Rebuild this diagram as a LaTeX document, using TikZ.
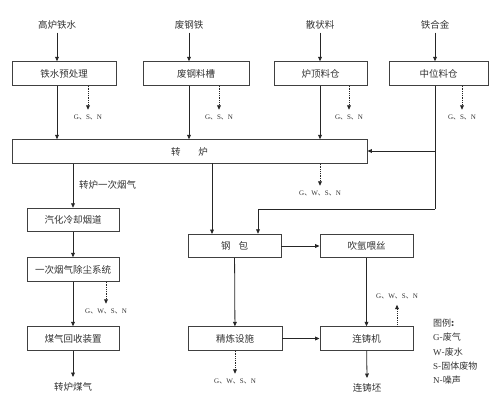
\documentclass[tikz,border=0pt]{standalone}
\usepackage{fontspec}
\setmainfont{Liberation Serif}
\newfontfamily\cjk{Noto Sans CJK SC}
\usetikzlibrary{arrows.meta}
\newcommand{\dn}{{\cjk 、}}
\tikzset{
  pbox/.style={draw=black!75, line width=0.9pt, minimum width=#1, minimum height=23.5pt, inner sep=0pt, font=\cjk\fontsize{9.5}{11}\selectfont, text=black!80},
  lbl/.style={inner sep=0pt, font=\cjk\fontsize{9.5}{11}\selectfont, text=black!80},
  em/.style={inner sep=0pt, font=\fontsize{7}{8}\selectfont, text=black!80},
  flow/.style={draw=black!85, line width=0.8pt, -{Triangle[length=4.5pt,width=3.8pt]}},
  plain/.style={draw=black!85, line width=0.8pt},
  emit/.style={draw=black!85, line width=0.8pt, densely dotted, -{Triangle[length=4.5pt,width=3.8pt]}},
  leg/.style={inner sep=0pt, anchor=west, font=\cjk\fontsize{9}{11}\selectfont, text=black!80}
}
\begin{document}
\begin{tikzpicture}[x=1pt,y=-1pt]
\useasboundingbox (0,0) rectangle (500,408);
% inputs
\node[lbl] (i1) at (57,25) {高炉铁水};
\node[lbl] (i2) at (189,25) {废钢铁};
\node[lbl] (i3) at (320,25) {散状料};
\node[lbl] (i4) at (435,25) {铁合金};
% first row boxes
\node[pbox=104pt] (b1) at (64,73.5) {铁水预处理};
\node[pbox=106pt] (b2) at (196,73.5) {废钢料槽};
\node[pbox=93pt] (b3) at (320.5,73.5) {炉顶料仓};
\node[pbox=99pt] (b4) at (438.5,73.5) {中位料仓};
% converter
\node[pbox=355pt] (zl) at (189.5,151.5) {转\hspace{18pt}炉};
% left chain
\node[pbox=92pt] (qh) at (73,220) {汽化冷却烟道};
\node[pbox=92pt] (cc) at (73,269.5) {一次烟气除尘系统};
\node[pbox=92pt] (mq) at (73,338.5) {煤气回收装置};
% middle / right
\node[pbox=93pt] (gb) at (234.5,246) {钢\hspace{8pt}包};
\node[pbox=93pt] (cy) at (366.5,246) {吹氩喂丝};
\node[pbox=94pt] (jl) at (235,338.5) {精炼设施};
\node[pbox=93pt] (lz) at (366.5,338.5) {连铸机};
% emission labels
\node[em] (e1) at (88,117) {G\dn S\dn N};
\node[em] (e2) at (219,117) {G\dn S\dn N};
\node[em] (e3) at (349,117) {G\dn S\dn N};
\node[em] (e4) at (462,117) {G\dn S\dn N};
\node[em] (e5) at (320,193) {G\dn W\dn S\dn N};
\node[em] (e6) at (106,311) {G\dn W\dn S\dn N};
\node[em] (e7) at (235,381) {G\dn W\dn S\dn N};
\node[em] (e8) at (397,296) {G\dn W\dn S\dn N};
% outputs
\node[lbl, anchor=west] (t1) at (79,185) {转炉一次烟气};
\node[lbl] (o1) at (73,387) {转炉煤气};
\node[lbl] (o2) at (367,388) {连铸坯};
% coordinates
\coordinate (c1) at (435,151);
\coordinate (c2) at (435,209);
\coordinate (c3) at (258,209);
\coordinate (f1) at (73,377);
\coordinate (f2) at (367,378);
% input arrows
\draw[flow] (i1.south) ++(0,3) -- (i1 |- b1.north);
\draw[flow] (i2.south) ++(0,3) -- (i2 |- b2.north);
\draw[flow] (i3.south) ++(0,3) -- (i3 |- b3.north);
\draw[flow] (i4.south) ++(0,3) -- (i4 |- b4.north);
% to converter
\draw[flow] (i1 |- b1.south) -- (i1 |- zl.north);
\draw[flow] (i2 |- b2.south) -- (i2 |- zl.north);
\draw[flow] (i3 |- b3.south) -- (i3 |- zl.north);
\draw[plain] (i4 |- b4.south) -- (c2);
\draw[flow] (c1) -- (c1 -| zl.east);
\draw[flow] (c2) -- (c3) -- (c3 |- gb.north);
% emissions first row
\draw[emit] (e1 |- b1.south) -- ([yshift=4.5pt]e1.north);
\draw[emit] (e2 |- b2.south) -- ([yshift=4.5pt]e2.north);
\draw[emit] (e3 |- b3.south) -- ([yshift=4.5pt]e3.north);
\draw[emit] (e4 |- b4.south) -- ([yshift=4.5pt]e4.north);
\draw[emit] (e5 |- zl.south) -- ([yshift=4.5pt]e5.north);
% converter outputs
\draw[flow] (qh.north |- zl.south) -- (qh.north);
\draw[flow] (212,163) -- (212,234);
% left chain
\draw[flow] (qh) -- (cc);
\draw[emit] (e6 |- cc.south) -- ([yshift=4.5pt]e6.north);
\draw[flow] (cc) -- (mq);
\draw[flow] (mq) -- (f1);
% middle
\draw[flow] (gb) -- (cy);
\draw[flow] (gb) -- (jl);
\draw[flow] (cy.south -| lz.north) -- (lz.north);
\draw[flow] (jl) -- (lz);
\draw[emit] (jl) -- ([yshift=4.5pt]e7.north);
\draw[emit] (e8 |- lz.north) -- ([yshift=-6pt]e8.south);
\draw[flow] (lz) -- (f2);
% legend
\node[leg] (g0) at (433,323) {图例{\bfseries :}};
\node[leg] (g1) at (433,337) {{\rmfamily G}-废气};
\node[leg] (g2) at (433,352) {{\rmfamily W}-废水};
\node[leg] (g3) at (433,366) {{\rmfamily S}-固体废物};
\node[leg] (g4) at (433,380) {{\rmfamily N}-噪声};
\end{tikzpicture}
\end{document}
